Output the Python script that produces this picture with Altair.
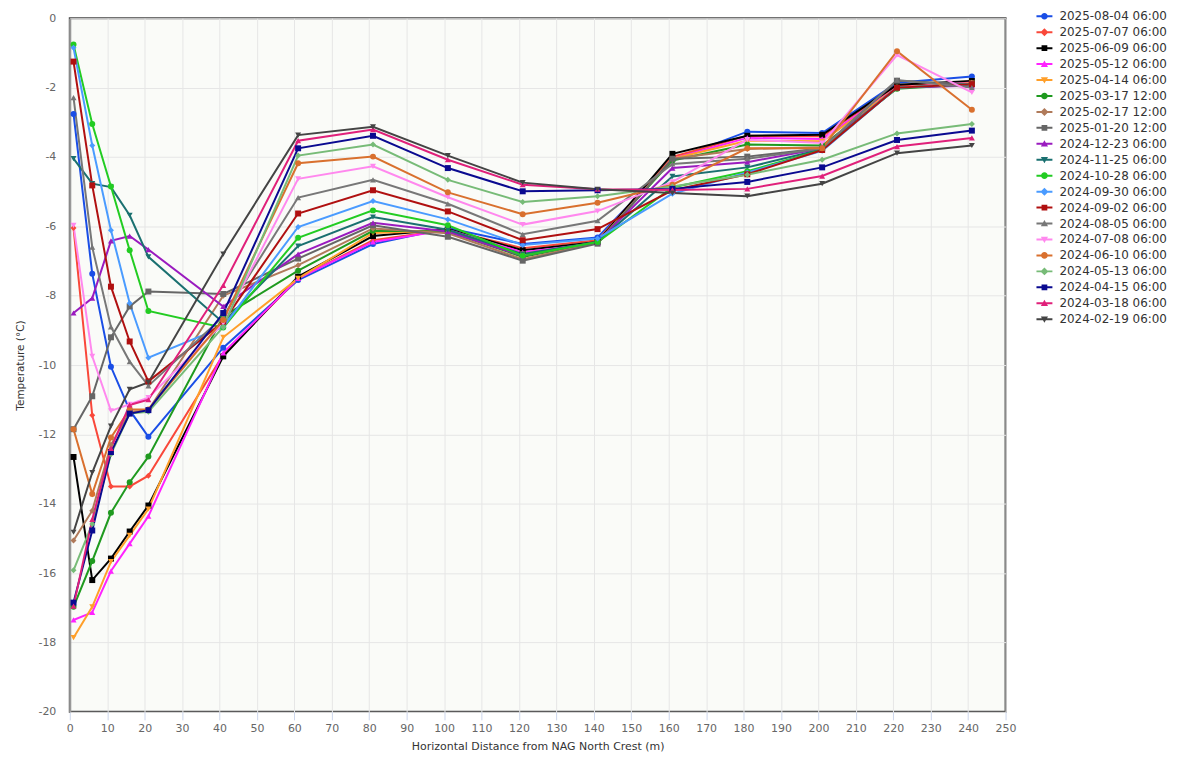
import altair as alt
import pandas as pd

# ---------------- data ----------------
distances = [1, 6, 11, 16, 21, 41, 61, 81, 101, 121, 141, 161, 181, 201, 221, 241]

series_names = [
    "2025-08-04 06:00", "2025-07-07 06:00", "2025-06-09 06:00", "2025-05-12 06:00",
    "2025-04-14 06:00", "2025-03-17 12:00", "2025-02-17 12:00", "2025-01-20 12:00",
    "2024-12-23 06:00", "2024-11-25 06:00", "2024-10-28 06:00", "2024-09-30 06:00",
    "2024-09-02 06:00", "2024-08-05 06:00", "2024-07-08 06:00", "2024-06-10 06:00",
    "2024-05-13 06:00", "2024-04-15 06:00", "2024-03-18 06:00", "2024-02-19 06:00",
]

series_colors = [
    "#1a4ee6", "#f9483a", "#000000", "#ff22ff", "#ff9f2a", "#1f9a1f", "#b07a5a", "#666666",
    "#9a1bbf", "#1a7070", "#22cc22", "#4a9bff", "#b01010", "#777777", "#ff88ee", "#d9702e",
    "#77bb77", "#0a0a90", "#e0207a", "#444444",
]

marker_shapes = [
    "circle", "diamond", "square", "triangle-up", "triangle-down",
    "circle", "diamond", "square", "triangle-up", "triangle-down",
    "circle", "diamond", "square", "triangle-up", "triangle-down",
    "circle", "diamond", "square", "triangle-up", "triangle-down",
]

t_2025_08_04 = [-2.76, -7.37, -10.05, -11.30, -12.07, -9.50, -7.55, -6.51, -6.05, -6.51, -6.32, -4.08, -3.27, -3.31, -1.86, -1.68]
t_2025_07_07 = [-6.05, -11.45, -13.50, -13.50, -13.19, -9.70, -7.50, -6.40, -6.10, -6.63, -6.40, -4.00, -3.39, -3.40, -1.95, -1.82]
t_2025_06_09 = [-12.65, -16.20, -15.58, -14.80, -14.05, -9.75, -7.45, -6.28, -6.08, -6.69, -6.45, -3.91, -3.39, -3.36, -1.92, -1.81]
t_2025_05_12 = [-17.35, -17.13, -15.94, -15.15, -14.36, -9.65, -7.50, -6.45, -6.10, -6.75, -6.49, -4.05, -3.45, -3.48, -2.00, -1.85]
t_2025_04_14 = [-17.86, -16.97, -15.67, -14.91, -14.15, -9.20, -7.50, -6.19, -6.12, -6.80, -6.48, -4.05, -3.53, -3.55, -2.00, -1.87]
t_2025_03_17 = [-16.97, -15.65, -14.26, -13.38, -12.64, -8.60, -7.28, -6.13, -6.15, -6.88, -6.46, -4.10, -3.64, -3.67, -2.03, -1.90]
t_2025_02_17 = [-15.06, -14.20, -12.30, -11.35, -11.30, -8.00, -7.12, -6.06, -6.20, -6.95, -6.47, -4.05, -3.77, -3.72, -2.00, -1.92]
t_2025_01_20 = [-11.85, -10.90, -9.20, -8.31, -7.88, -7.95, -6.93, -5.97, -6.30, -6.99, -6.50, -4.05, -3.99, -3.75, -1.80, -1.90]
t_2024_12_23 = [-8.50, -8.07, -6.42, -6.28, -6.67, -8.31, -6.80, -5.90, -6.15, -6.85, -6.45, -4.32, -4.15, -3.75, -2.00, -1.95]
t_2024_11_25 = [-4.05, -4.77, -4.87, -5.68, -6.88, -8.78, -6.57, -5.73, -6.10, -6.80, -6.45, -4.56, -4.30, -3.78, -2.00, -1.90]
t_2024_10_28 = [-0.76, -3.05, -4.85, -6.69, -8.44, -8.92, -6.33, -5.54, -5.97, -6.85, -6.45, -4.88, -4.41, -3.80, -2.00, -1.90]
t_2024_09_30 = [-0.85, -3.67, -6.11, -8.22, -9.79, -8.90, -6.02, -5.27, -5.80, -6.54, -6.35, -5.06, -4.45, -3.82, -2.00, -1.90]
t_2024_09_02 = [-1.25, -4.82, -7.74, -9.32, -10.47, -8.75, -5.63, -4.96, -5.57, -6.40, -6.08, -4.96, -4.50, -3.80, -2.00, -1.90]
t_2024_08_05 = [-2.29, -6.60, -8.90, -9.90, -10.60, -8.60, -5.17, -4.66, -5.35, -6.23, -5.84, -4.20, -4.05, -3.75, -1.78, -2.00]
t_2024_07_08 = [-5.97, -9.75, -11.32, -11.13, -10.94, -8.80, -4.63, -4.27, -5.16, -5.95, -5.56, -4.72, -3.50, -3.60, -1.06, -2.14]
t_2024_06_10 = [-11.85, -13.72, -12.09, -11.28, -11.28, -8.70, -4.18, -3.99, -5.02, -5.65, -5.32, -4.80, -3.75, -3.75, -0.95, -2.64]
t_2024_05_13 = [-15.92, -14.58, -12.57, -11.40, -11.35, -8.90, -3.96, -3.64, -4.66, -5.30, -5.13, -4.85, -4.51, -4.08, -3.32, -3.05]
t_2024_04_15 = [-16.85, -14.77, -12.51, -11.40, -11.30, -8.50, -3.75, -3.39, -4.32, -4.99, -4.96, -4.92, -4.72, -4.30, -3.51, -3.24]
t_2024_03_18 = [-16.95, -14.45, -12.40, -11.15, -11.00, -7.70, -3.53, -3.21, -4.08, -4.80, -4.93, -4.95, -4.92, -4.55, -3.70, -3.45]
t_2024_02_19 = [-14.82, -13.10, -11.76, -10.70, -10.50, -6.80, -3.37, -3.13, -3.96, -4.74, -4.93, -5.04, -5.13, -4.77, -3.89, -3.67]

series_values = [
    t_2025_08_04, t_2025_07_07, t_2025_06_09, t_2025_05_12, t_2025_04_14,
    t_2025_03_17, t_2025_02_17, t_2025_01_20, t_2024_12_23, t_2024_11_25,
    t_2024_10_28, t_2024_09_30, t_2024_09_02, t_2024_08_05, t_2024_07_08,
    t_2024_06_10, t_2024_05_13, t_2024_04_15, t_2024_03_18, t_2024_02_19,
]

x_ticks = list(range(0, 260, 10))
y_ticks = list(range(-20, 1, 2))

# ---------------- table ----------------
rows = []
for name, vals in zip(series_names, series_values):
    for d, v in zip(distances, vals):
        rows.append({"series": name, "distance": d, "temperature": v})
df = pd.DataFrame(rows)

# legend symbols: short line with marker on top (custom SVG paths)
bar = "M-1,-0.125H1V0.125H-1Z"
marker_paths = {
    "circle": "M-0.42,0A0.42,0.42 0 1,1 0.42,0A0.42,0.42 0 1,1 -0.42,0Z",
    "diamond": "M0,-0.5L0.5,0L0,0.5L-0.5,0Z",
    "square": "M-0.36,-0.36H0.36V0.36H-0.36Z",
    "triangle-up": "M0,-0.45L0.45,0.35L-0.45,0.35Z",
    "triangle-down": "M0,0.45L-0.45,-0.35L0.45,-0.35Z",
}
legend_paths = [bar + " " + marker_paths[s] for s in marker_shapes]

FONT = "DejaVu Sans"

x_enc = alt.X(
    "distance:Q",
    scale=alt.Scale(domain=[0, 250], nice=False, zero=False),
    axis=alt.Axis(
        values=x_ticks, title="Horizontal Distance from NAG North Crest (m)",
        grid=True, gridColor="#e6e6e6", gridWidth=1,
        ticks=True, tickColor="#ccd6eb", tickSize=8, tickWidth=1,
        domain=False, labelColor="#666666", labelFontSize=11, labelFont=FONT,
        labelPadding=3, labelFlush=False,
        titleColor="#333333", titleFontSize=11, titleFont=FONT, titleFontWeight="normal",
        titlePadding=7,
    ),
)
y_enc = alt.Y(
    "temperature:Q",
    scale=alt.Scale(domain=[-20, 0], nice=False, zero=False),
    axis=alt.Axis(
        values=y_ticks, title="Temperature (°C)",
        grid=True, gridColor="#e6e6e6", gridWidth=1,
        ticks=False, domain=True, domainColor="#999999", domainWidth=2,
        labelColor="#666666", labelFontSize=11, labelFont=FONT, labelPadding=14,
        labelExpr="'' + datum.value",
        titleColor="#333333", titleFontSize=10.5, titleFont=FONT, titleFontWeight="normal",
        titlePadding=12,
    ),
)

color_scale = alt.Scale(domain=series_names, range=series_colors)

legend_kwargs = dict(
    orient="none", legendX=970, legendY=-10, title=None,
    labelFont=FONT, labelFontSize=12, labelColor="#333333", labelLimit=300,
    symbolSize=256, labelOffset=7, rowPadding=2, padding=0,
    symbolOpacity=1, symbolStrokeWidth=0, columns=1,
)

lines = alt.Chart(df).mark_line(strokeWidth=2).encode(
    x=x_enc, y=y_enc,
    color=alt.Color("series:N", scale=color_scale, legend=None, sort=series_names),
    order="distance:Q",
)

points = alt.Chart(df).mark_point(filled=True, size=36, opacity=1).encode(
    x=x_enc, y=y_enc,
    color=alt.Color("series:N", scale=color_scale, legend=None, sort=series_names),
    shape=alt.Shape("series:N", scale=alt.Scale(domain=series_names, range=marker_shapes),
                    legend=None, sort=series_names),
)

legend_layer = alt.Chart(df).mark_point(filled=True, opacity=0).encode(
    x=x_enc, y=y_enc,
    color=alt.Color("series:N", scale=color_scale, sort=series_names,
                    legend=alt.Legend(**legend_kwargs)),
    shape=alt.Shape("series:N", scale=alt.Scale(domain=series_names, range=legend_paths),
                    sort=series_names, legend=alt.Legend(**legend_kwargs)),
)

chart = alt.layer(lines, points, legend_layer).resolve_scale(
    color="independent", shape="independent"
).properties(
    width=939, height=696,
    autosize=alt.AutoSizeParams(type="none"),
    padding={"left": 62, "top": 9, "right": 166, "bottom": 41},
    background="white",
).configure_view(
    fill="#fafbf8", stroke="#444444", strokeWidth=2,
)

chart.save("out.html", embed_options={"renderer": "svg", "actions": False})
